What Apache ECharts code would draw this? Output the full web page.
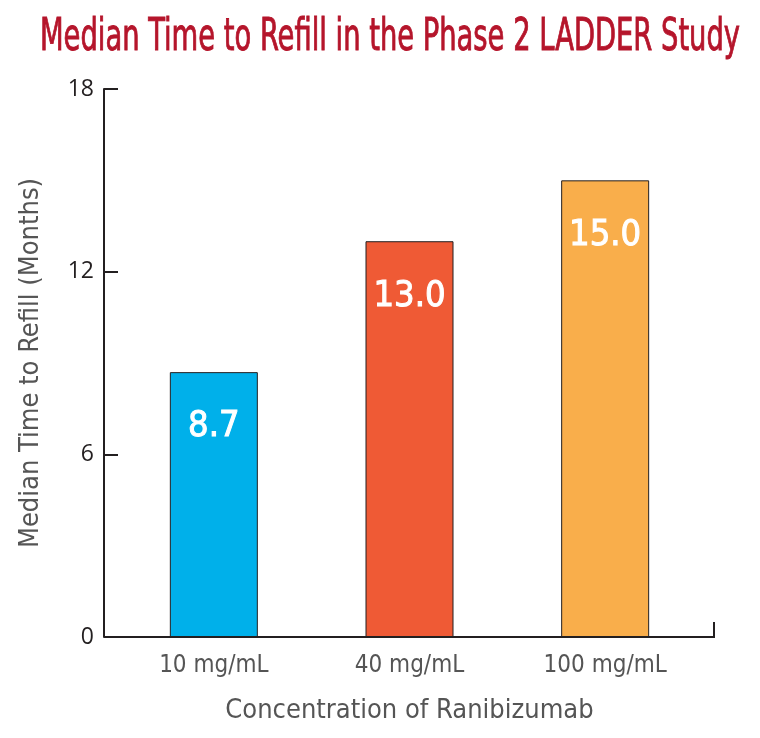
<!DOCTYPE html>
<html>
<head>
<meta charset="utf-8">
<script src="https://cdn.jsdelivr.net/npm/echarts@6/dist/echarts.min.js"></script>
<style>html,body{margin:0;padding:0;background:#fff}#c{width:760px;height:738px}</style>
</head>
<body>
<div id="c"></div>
<script>
const categories = ['10 mg/mL', '40 mg/mL', '100 mg/mL'];
const values = [8.7, 13.0, 15.0];
const barColors = ['#00b0ea', '#ef5a35', '#f9ae4b'];
const yTicks = [0, 6, 12, 18];
const titleText = 'Median Time to Refill in the Phase 2 LADDER Study';

const NARROW = '"DejaVu Sans Condensed", "Liberation Sans Narrow", "Roboto", sans-serif';
const TITLE_SIZE = 44;
const cv = document.createElement('canvas').getContext('2d');
cv.font = TITLE_SIZE + 'px ' + NARROW;
const titleW = cv.measureText(titleText).width;
const titleScale = Math.min(1, 700 / titleW);

const chart = echarts.init(document.getElementById('c'));
chart.setOption({
  backgroundColor: '#fff',
  animation: false,
  grid: { left: 116, right: 57, top: 89, bottom: 101 },
  xAxis: {
    type: 'category',
    data: categories,
    axisLine: { show: false },
    axisTick: { show: false },
    axisLabel: { color: '#555', fontFamily: NARROW, fontSize: 24, margin: 17 },
    name: 'Concentration of Ranibizumab',
    nameLocation: 'middle',
    nameGap: 60,
    nameTextStyle: { color: '#555', fontFamily: NARROW, fontSize: 27 }
  },
  yAxis: {
    type: 'value',
    min: 0, max: 18, interval: 6,
    offset: 12,
    axisLine: { show: true, lineStyle: { color: '#231f20', width: 2 } },
    axisTick: { show: true, inside: true, length: 14, lineStyle: { color: '#231f20', width: 2 } },
    splitLine: { show: false },
    axisLabel: {
      color: '#231f20', fontFamily: '"Open Sans", "Noto Sans", sans-serif', fontSize: 23, margin: 10,
      formatter: v => yTicks.includes(v) ? String(v) : ''
    },
    name: 'Median Time to Refill (Months)',
    nameLocation: 'middle',
    nameGap: 60,
    nameRotate: 90,
    nameTextStyle: { color: '#555', fontFamily: NARROW, fontSize: 27 }
  },
  series: [{
    type: 'bar',
    barWidth: 88,
    data: values.map((v, i) => ({ value: v, itemStyle: { color: barColors[i] } })),
    itemStyle: { borderColor: '#231f20', borderWidth: 1 },
    label: {
      show: true, position: 'insideTop', distance: 37,
      color: '#fff', fontFamily: NARROW, fontSize: 36, fontWeight: 'normal',
      textBorderColor: '#fff', textBorderWidth: 1,
      formatter: p => p.value.toFixed(1)
    }
  }],
  graphic: [
    { type: 'text', x: 390, y: 39, scaleX: titleScale, scaleY: 1,
      style: { text: titleText, fill: '#b5152b', font: TITLE_SIZE + 'px ' + NARROW,
               stroke: '#b5152b', lineWidth: 0.9,
               align: 'center', verticalAlign: 'middle' }, z: 10 },
    { type: 'polyline', shape: { points: [[104, 637], [714, 637], [714, 622]] },
      style: { stroke: '#231f20', lineWidth: 2, fill: null }, z: 10 }
  ]
});
</script>
</body>
</html>
